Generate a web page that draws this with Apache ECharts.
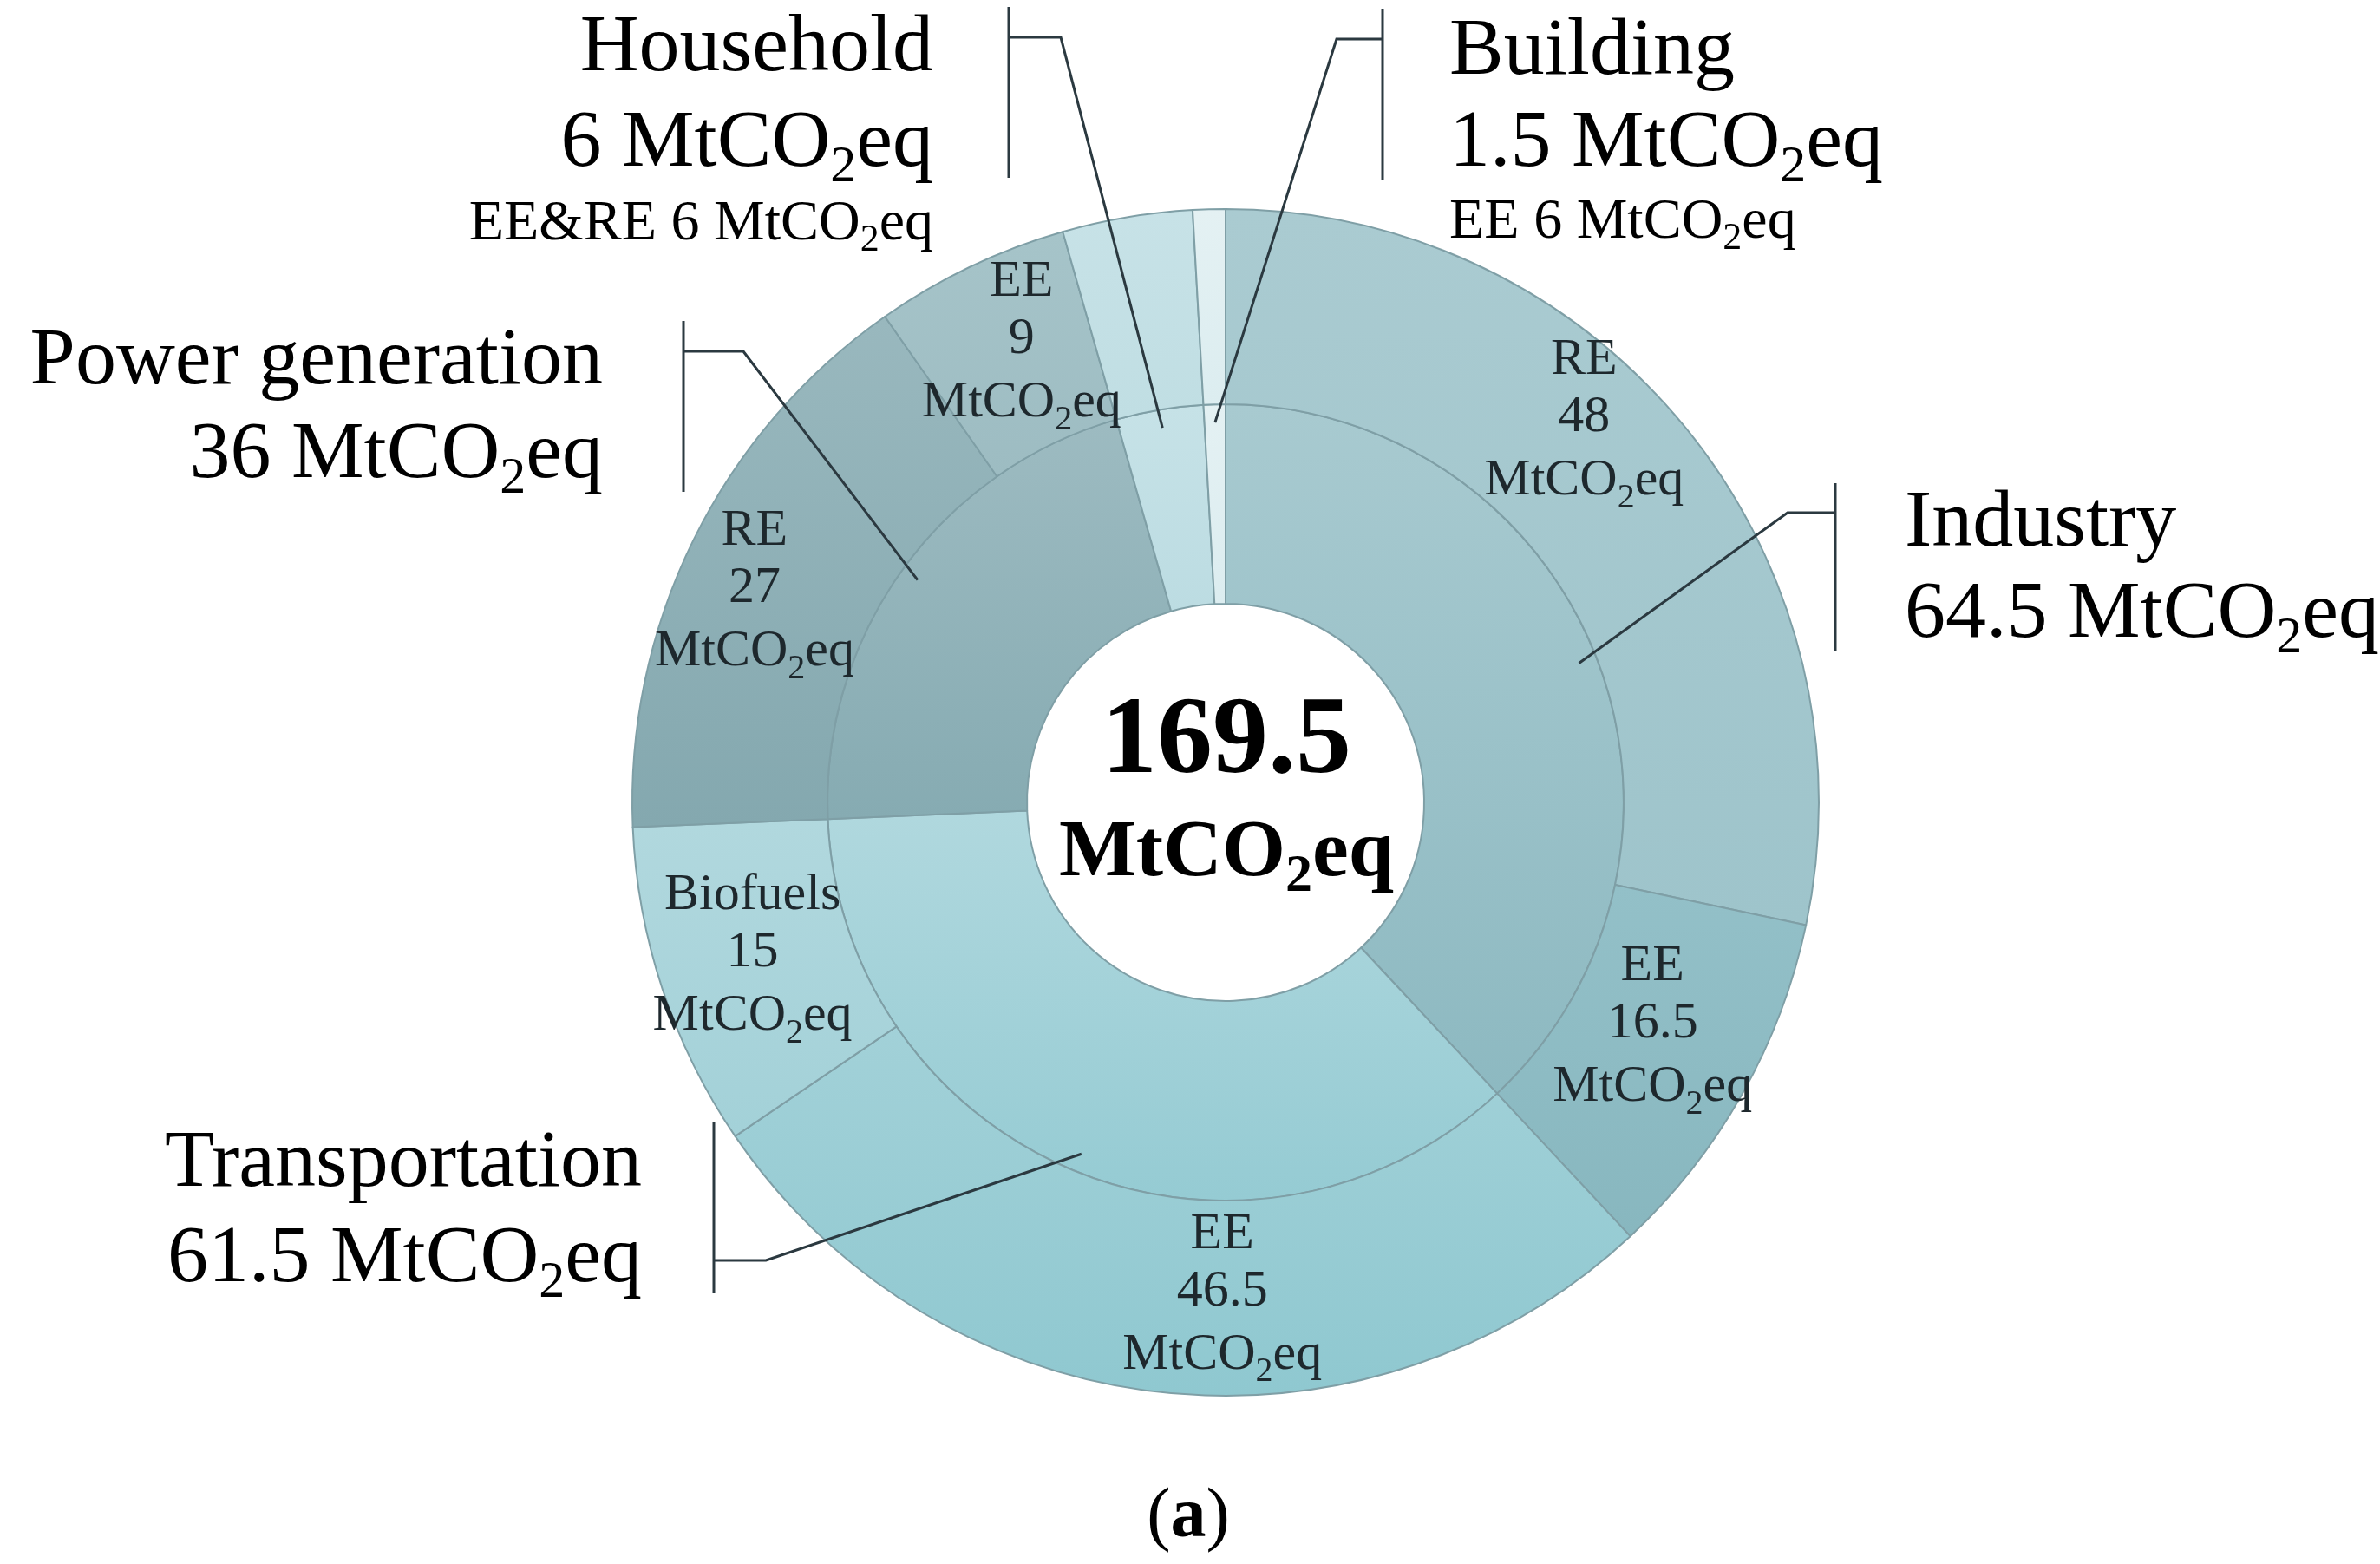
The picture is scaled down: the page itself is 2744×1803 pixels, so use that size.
<!DOCTYPE html>
<html>
<head>
<meta http-equiv="Content-Type" content="text/html; charset=utf-8" />
<title>169.5 MtCO2eq</title>
<style type="text/css">
body,
html {
    width: 100%;
    height: 100%;
    margin: 0;
    overflow: hidden;
    background: #fff;
}

#chart {
    width: 2744px;
    height: 1803px;
}
</style>
</head>
<body>
<div id="chart"></div>
<script src="https://cdn.jsdelivr.net/npm/echarts@6/dist/echarts.min.js"></script>
<script>
// inner ring: sectors
var sectors = ['Industry', 'Transportation', 'Power generation', 'Household', 'Building'];
var sectorValues = [64.5, 61.5, 36, 6, 1.5];
// outer ring: measures, in the same clockwise order
var measures = ['RE', 'EE', 'EE', 'Biofuels', 'RE', 'EE', 'EE&RE', 'EE'];
var measureValues = [48, 16.5, 46.5, 15, 27, 9, 6, 1.5];
// notes printed under the small sectors (as in the figure)
var sectorNotes = ['', '', '', 'EE&RE 6', 'EE 6'];

var FONT = '"Liberation Serif", "DejaVu Serif", serif';
var cx = 1413, cy = 925;
var rHole = 229, rMid = 459, rOut = 684;

// top / bottom colours of each slice
var sectorColors = [
    ['#a8cad0', '#8db9c1'],
    ['#b0d8de', '#95cbd3'],
    ['#9dbbc1', '#86abb2'],
    ['#c6e2e7', '#bcdce2'],
    ['#e4f1f3', '#dcedf0']
];
var measureColors = [
    ['#aacbd1', '#9ec4cb'],
    ['#93c0c8', '#88b7bf'],
    ['#a2d1d8', '#8fc8d0'],
    ['#b1d8de', '#a3d1d8'],
    ['#99b8be', '#84a8af'],
    ['#a6c4c9', '#9dbcc2'],
    ['#c7e2e7', '#c0dee3'],
    ['#e4f1f3', '#dcedf0']
];
// small nudges of the in-ring labels, as placed in the figure
var labelNudge = { 0: [-33, -75], 2: [60, 0], 4: [-28, 15], 5: [12, -8], 1: [-8, -20] };

function grad(c) {
    return new echarts.graphic.LinearGradient(0, 0, 0, 1, [
        { offset: 0, color: c[0] },
        { offset: 1, color: c[1] }
    ]);
}

var total = sectorValues.reduce(function(a, b) { return a + b; }, 0);

function unit(a, b) {
    return '{' + a + '|MtCO}{' + b + '|2}{' + a + '|eq}';
}

var innerData = sectors.map(function(name, i) {
    return { name: name, value: sectorValues[i], itemStyle: { color: grad(sectorColors[i]) } };
});
var outerData = measures.map(function(name, i) {
    return {
        name: name,
        value: measureValues[i],
        itemStyle: { color: grad(measureColors[i]) },
        label: { show: measureValues[i] > 8, offset: labelNudge[i] || [0, 0] }
    };
});

// callout layout (bracket + text) per sector
var callouts = [
    { align: 'left', textX: 2196, lines: [604, 709], barX: 2116, barY: [557, 750], tickY: 591, tickX: 2061 },
    { align: 'right', textX: 740, lines: [1342, 1452], barX: 823, barY: [1293, 1491], tickY: 1453, tickX: 883 },
    { align: 'right', textX: 695, lines: [417, 525], barX: 788, barY: [370, 567], tickY: 405, tickX: 857 },
    { align: 'right', textX: 1076, lines: [56, 166, 259], barX: 1163, barY: [8, 205], tickY: 43, tickX: 1223 },
    { align: 'left', textX: 1671, lines: [60, 166, 257], barX: 1594, barY: [10, 207], tickY: 45, tickX: 1541 }
];

// subscripts: a tall line box with the small "2" pinned to its bottom
var bigRich = {
    a: { fontFamily: FONT, fontSize: 94, lineHeight: 114, color: '#111' },
    b: { fontFamily: FONT, fontSize: 60, color: '#111', verticalAlign: 'bottom' },
    m: { fontFamily: FONT, fontSize: 66, lineHeight: 80, color: '#111' },
    n: { fontFamily: FONT, fontSize: 44, color: '#111', verticalAlign: 'bottom' }
};

var graphics = [];
var cum = 0;
sectorValues.forEach(function(v, i) {
    var c = callouts[i];
    var ang = (cum + v / 2) / total * Math.PI * 2;
    cum += v;
    var rEnd = rMid - 21;
    var end = [cx + rEnd * Math.sin(ang), cy - rEnd * Math.cos(ang)];
    graphics.push({
        type: 'polyline', z: 100,
        shape: { points: [[c.barX, c.barY[0]], [c.barX, c.barY[1]]] },
        style: { stroke: '#2b3940', lineWidth: 3, fill: null }
    });
    graphics.push({
        type: 'polyline', z: 100,
        shape: { points: [[c.barX, c.tickY], [c.tickX, c.tickY], end] },
        style: { stroke: '#2b3940', lineWidth: 3, fill: null }
    });
    var texts = [
        '{a|' + sectors[i] + '}',
        '{a|' + v + ' }' + unit('a', 'b')
    ];
    if (sectorNotes[i]) {
        texts.push('{m|' + sectorNotes[i] + ' }' + unit('m', 'n'));
    }
    texts.forEach(function(t, k) {
        graphics.push({
            type: 'text', z: 100,
            x: c.textX, y: c.lines[k],
            style: { text: t, rich: bigRich, align: c.align, verticalAlign: 'middle' }
        });
    });
});

// centre total
graphics.push({
    type: 'text', z: 100, x: cx + 1, y: 857,
    style: {
        text: '{n|' + total + '}',
        rich: { n: { fontFamily: FONT, fontSize: 128, fontWeight: 'bold', color: '#000' } },
        align: 'center', verticalAlign: 'middle'
    }
});
graphics.push({
    type: 'text', z: 100, x: cx + 1, y: 985,
    style: {
        text: unit('u', 's'),
        rich: {
            u: { fontFamily: FONT, fontSize: 94, fontWeight: 'bold', lineHeight: 114, color: '#000' },
            s: { fontFamily: FONT, fontSize: 62, fontWeight: 'bold', color: '#000', verticalAlign: 'bottom' }
        },
        align: 'center', verticalAlign: 'middle'
    }
});
// panel letter
graphics.push({
    type: 'text', z: 100, x: 1370, y: 1750,
    style: {
        text: '{p|(}{q|a}{p|)}',
        rich: {
            p: { fontFamily: FONT, fontSize: 82, color: '#000' },
            q: { fontFamily: FONT, fontSize: 82, fontWeight: 'bold', color: '#000' }
        },
        align: 'center', verticalAlign: 'middle'
    }
});

var chart = echarts.init(document.getElementById('chart'));
chart.setOption({
    animation: false,
    backgroundColor: '#fff',
    series: [{
        type: 'pie',
        center: [cx, cy],
        radius: [rHole, rMid],
        startAngle: 90,
        clockwise: true,
        avoidLabelOverlap: false,
        itemStyle: { borderColor: '#7f9fa6', borderWidth: 2 },
        label: { show: false },
        labelLine: { show: false },
        emphasis: { disabled: true },
        data: innerData
    }, {
        type: 'pie',
        center: [cx, cy],
        radius: [rMid, rOut],
        startAngle: 90,
        clockwise: true,
        avoidLabelOverlap: false,
        itemStyle: { borderColor: '#7f9fa6', borderWidth: 2 },
        label: {
            position: 'inside',
            formatter: function(p) {
                return '{t|' + p.name + '}\n{t|' + p.value + '}\n' + unit('u', 's');
            },
            rich: {
                t: { fontFamily: FONT, fontSize: 60, lineHeight: 66, color: '#1e282d', align: 'center' },
                u: { fontFamily: FONT, fontSize: 60, lineHeight: 80, color: '#1e282d' },
                s: { fontFamily: FONT, fontSize: 40, color: '#1e282d', verticalAlign: 'bottom' }
            }
        },
        labelLine: { show: false },
        emphasis: { disabled: true },
        data: outerData
    }],
    graphic: graphics
});
</script>
</body>
</html>
